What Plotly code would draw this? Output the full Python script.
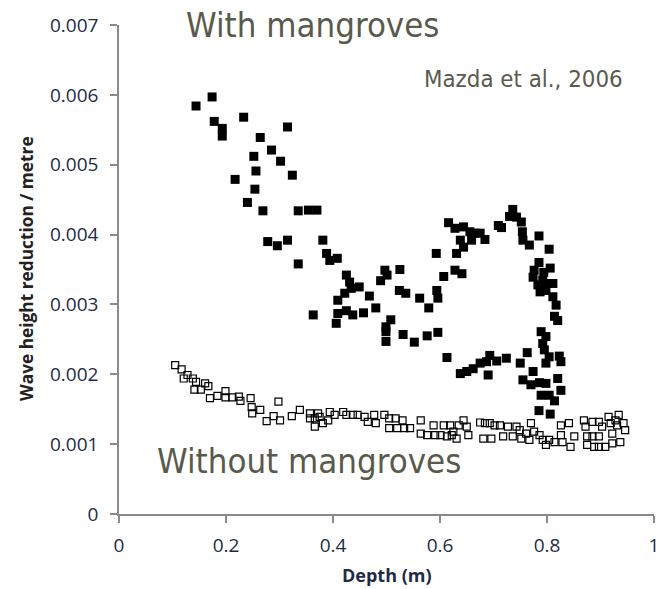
import plotly.graph_objects as go

# With mangroves (filled squares): depth (m), wave height reduction per metre
with_depth = [0.144, 0.174, 0.178, 0.193, 0.193, 0.233, 0.315, 0.264, 0.285, 0.252,
              0.302, 0.256, 0.324, 0.217, 0.254, 0.240, 0.269, 0.335, 0.354, 0.370,
              0.278, 0.296, 0.315, 0.335, 0.381, 0.388, 0.394, 0.408, 0.425, 0.431,
              0.434, 0.449, 0.422, 0.409, 0.468, 0.363, 0.409, 0.425, 0.437, 0.406,
              0.457, 0.480, 0.497, 0.501, 0.489, 0.525, 0.524, 0.536, 0.562, 0.579,
              0.508, 0.499, 0.499, 0.531, 0.552, 0.499, 0.576, 0.596, 0.594, 0.596,
              0.607, 0.593, 0.616, 0.628, 0.644, 0.638, 0.644, 0.631, 0.628, 0.641,
              0.613, 0.656, 0.665, 0.675, 0.684, 0.659, 0.709, 0.715, 0.736, 0.730,
              0.743, 0.752, 0.754, 0.755, 0.767, 0.785, 0.804, 0.785, 0.806, 0.776,
              0.774, 0.792, 0.783, 0.798, 0.811, 0.798, 0.811, 0.817, 0.814, 0.789,
              0.798, 0.792, 0.795, 0.804, 0.798, 0.823, 0.826, 0.763, 0.750, 0.724,
              0.706, 0.693, 0.687, 0.675, 0.662, 0.650, 0.638, 0.690, 0.774, 0.755,
              0.770, 0.786, 0.798, 0.820, 0.826, 0.789, 0.804, 0.814, 0.785, 0.806,
              0.794, 0.787, 0.820]
with_red = [0.00584, 0.00597, 0.00562, 0.00552, 0.00541, 0.00568, 0.00554, 0.00539, 0.00521, 0.00512,
            0.00505, 0.00491, 0.00485, 0.00479, 0.00465, 0.00446, 0.00434, 0.00434, 0.00435, 0.00435,
            0.00390, 0.00384, 0.00392, 0.00358, 0.00392, 0.00373, 0.00363, 0.00366, 0.00342, 0.00332,
            0.00323, 0.00325, 0.00316, 0.00306, 0.00312, 0.00285, 0.00287, 0.00291, 0.00285, 0.00273,
            0.00288, 0.00295, 0.00349, 0.00342, 0.00334, 0.00350, 0.00320, 0.00316, 0.00309, 0.00295,
            0.00278, 0.00268, 0.00261, 0.00257, 0.00246, 0.00247, 0.00255, 0.00260, 0.00320, 0.00309,
            0.00340, 0.00373, 0.00417, 0.00409, 0.00411, 0.00392, 0.00382, 0.00373, 0.00349, 0.00344,
            0.00224, 0.00404, 0.00402, 0.00402, 0.00393, 0.00392, 0.00413, 0.00410, 0.00436, 0.00426,
            0.00425, 0.00418, 0.00404, 0.00392, 0.00385, 0.00398, 0.00379, 0.00360, 0.00352, 0.00349,
            0.00339, 0.00335, 0.00328, 0.00330, 0.00330, 0.00320, 0.00311, 0.00299, 0.00283, 0.00261,
            0.00254, 0.00244, 0.00235, 0.00225, 0.00216, 0.00226, 0.00218, 0.00231, 0.00216, 0.00223,
            0.00219, 0.00227, 0.00218, 0.00216, 0.00208, 0.00204, 0.00201, 0.00199, 0.00204, 0.00192,
            0.00185, 0.00188, 0.00187, 0.00194, 0.00177, 0.00170, 0.00170, 0.00162, 0.00148, 0.00143,
            0.00346, 0.00318, 0.00277]

# Without mangroves (open squares)
without_depth = [0.105, 0.117, 0.121, 0.128, 0.138, 0.144, 0.141, 0.153, 0.161, 0.167,
                 0.170, 0.184, 0.199, 0.199, 0.212, 0.224, 0.227, 0.246, 0.248, 0.249,
                 0.264, 0.276, 0.289, 0.298, 0.301, 0.323, 0.338, 0.357, 0.366, 0.375,
                 0.381, 0.394, 0.403, 0.357, 0.366, 0.372, 0.391, 0.419, 0.425, 0.437,
                 0.446, 0.459, 0.465, 0.477, 0.480, 0.496, 0.505, 0.505, 0.517, 0.520,
                 0.530, 0.533, 0.544, 0.564, 0.564, 0.576, 0.588, 0.591, 0.601, 0.607,
                 0.613, 0.622, 0.631, 0.635, 0.644, 0.619, 0.625, 0.650, 0.653, 0.675,
                 0.684, 0.693, 0.702, 0.712, 0.681, 0.696, 0.718, 0.727, 0.736, 0.743,
                 0.749, 0.752, 0.761, 0.767, 0.770, 0.776, 0.786, 0.792, 0.798, 0.804,
                 0.814, 0.826, 0.826, 0.829, 0.841, 0.844, 0.851, 0.869, 0.872, 0.875,
                 0.875, 0.885, 0.885, 0.888, 0.897, 0.897, 0.897, 0.903, 0.909, 0.915,
                 0.919, 0.922, 0.922, 0.928, 0.931, 0.934, 0.937, 0.943, 0.946]
without_red = [0.00213, 0.00207, 0.00194, 0.00199, 0.00194, 0.00189, 0.00178, 0.00178, 0.00187, 0.00183,
               0.00166, 0.00169, 0.00176, 0.00167, 0.00167, 0.00168, 0.00162, 0.00166, 0.00153, 0.00144,
               0.00149, 0.00133, 0.00140, 0.00161, 0.00134, 0.00140, 0.00149, 0.00137, 0.00125, 0.00139,
               0.00130, 0.00146, 0.00142, 0.00144, 0.00137, 0.00144, 0.00134, 0.00146, 0.00142, 0.00142,
               0.00142, 0.00139, 0.00132, 0.00142, 0.00130, 0.00142, 0.00137, 0.00123, 0.00137, 0.00123,
               0.00134, 0.00123, 0.00123, 0.00134, 0.00115, 0.00113, 0.00127, 0.00113, 0.00113, 0.00127,
               0.00111, 0.00113, 0.00108, 0.00127, 0.00134, 0.00127, 0.00118, 0.00125, 0.00113, 0.00131,
               0.00130, 0.00130, 0.00127, 0.00127, 0.00108, 0.00108, 0.00111, 0.00125, 0.00111, 0.00125,
               0.00120, 0.00108, 0.00115, 0.00106, 0.00130, 0.00118, 0.00113, 0.00106, 0.00099, 0.00106,
               0.00103, 0.00127, 0.00113, 0.00103, 0.00130, 0.00096, 0.00111, 0.00134, 0.00125, 0.00111,
               0.00099, 0.00132, 0.00111, 0.00096, 0.00132, 0.00111, 0.00096, 0.00125, 0.00096, 0.00139,
               0.00130, 0.00115, 0.00101, 0.00134, 0.00127, 0.00142, 0.00103, 0.00130, 0.00120]

x_ticks = [0, 0.2, 0.4, 0.6, 0.8, 1]
x_tick_text = ["0", "0.2", "0.4", "0.6", "0.8", "1"]
y_ticks = [0, 0.001, 0.002, 0.003, 0.004, 0.005, 0.006, 0.007]
y_tick_text = ["0", "0.001", "0.002", "0.003", "0.004", "0.005", "0.006", "0.007"]

narrow = "Liberation Sans Narrow, Arial Narrow, DejaVu Sans Condensed, sans-serif"
label_color = "#5a5a4c"
tick_color = "#1e2b47"
axis_color = "#8a8a8a"

fig = go.Figure()
fig.add_trace(go.Scatter(
    x=with_depth, y=with_red, mode="markers", name="With mangroves",
    marker=dict(symbol="square", size=9, color="black", line=dict(width=0)),
))
fig.add_trace(go.Scatter(
    x=without_depth, y=without_red, mode="markers", name="Without mangroves",
    marker=dict(symbol="square-open", size=7, color="black", line=dict(width=1.2, color="black")),
))

fig.update_layout(
    width=665, height=589,
    margin=dict(l=119, r=6, t=25, b=75),
    paper_bgcolor="white", plot_bgcolor="white",
    showlegend=False,
    xaxis=dict(
        range=[0, 1], tickvals=x_ticks, ticktext=x_tick_text,
        showgrid=False, zeroline=False, showline=True, linecolor=axis_color, linewidth=1.5,
        ticks="outside", ticklen=7, tickcolor=axis_color, tickwidth=1.5,
        tickfont=dict(family="Open Sans", size=19, color=tick_color),
        ticklabelstandoff=6,
    ),
    yaxis=dict(
        range=[0, 0.007], tickvals=y_ticks, ticktext=y_tick_text,
        showgrid=False, zeroline=False, showline=True, linecolor=axis_color, linewidth=1.5,
        ticks="outside", ticklen=7, tickcolor=axis_color, tickwidth=1.5,
        tickfont=dict(family="Open Sans", size=19, color=tick_color),
        ticklabelstandoff=8,
    ),
    annotations=[
        dict(text="<b>Depth (m)</b>", xref="paper", yref="paper", x=0.5, y=-0.125,
             xanchor="center", yanchor="middle", showarrow=False,
             font=dict(family="Open Sans", size=18, color=tick_color)),
        dict(text="<b>Wave height reduction / metre</b>", xref="paper", yref="paper",
             x=-0.174, y=0.503, xanchor="center", yanchor="middle", textangle=-90,
             showarrow=False, font=dict(family="Open Sans", size=17.3, color="#222222")),
        dict(text="With mangroves", xref="paper", yref="paper", x=0.122, y=1.0,
             xanchor="left", yanchor="middle", showarrow=False,
             font=dict(family=narrow, size=34.5, color=label_color)),
        dict(text="Without mangroves", xref="paper", yref="paper", x=0.0667, y=0.108,
             xanchor="left", yanchor="middle", showarrow=False,
             font=dict(family=narrow, size=34.5, color=label_color)),
        dict(text="Mazda et al., 2006", xref="paper", yref="paper", x=0.567, y=0.889,
             xanchor="left", yanchor="middle", showarrow=False,
             font=dict(family=narrow, size=23.8, color=label_color)),
    ],
)

fig.write_html("out.html",
               config={"displayModeBar": False},
               post_script="document.body.style.margin='0px';document.body.style.overflow='hidden';")
